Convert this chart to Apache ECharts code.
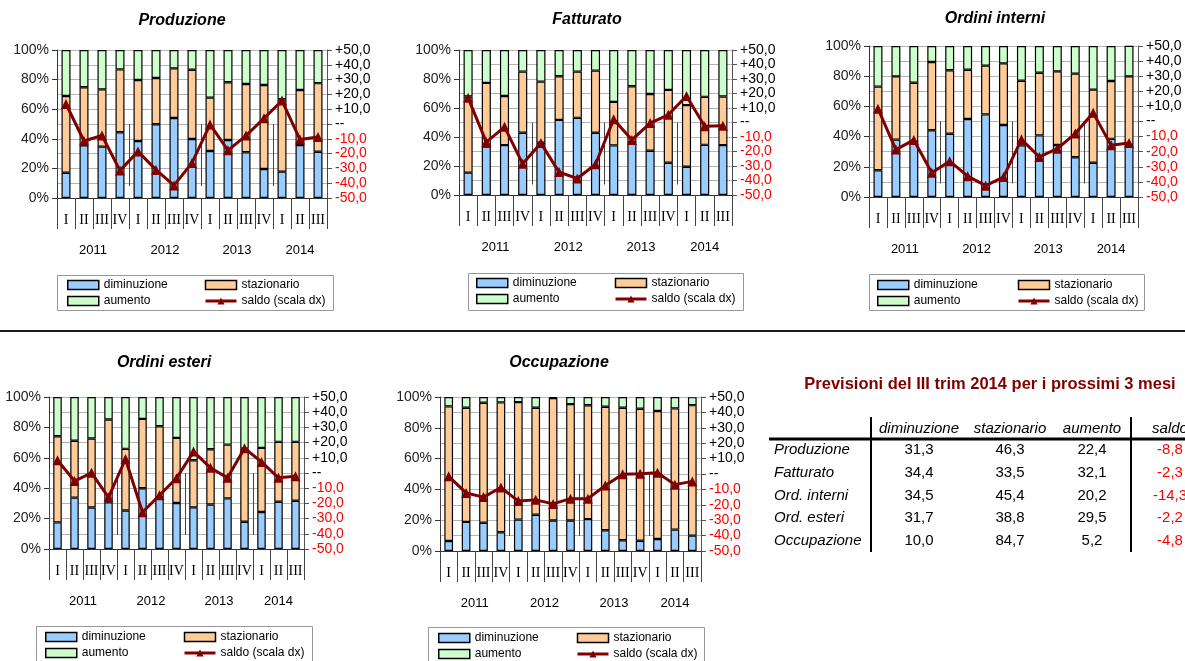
<!DOCTYPE html>
<html><head><meta charset="utf-8">
<script src="https://cdn.jsdelivr.net/npm/echarts@6/dist/echarts.min.js"></script>
<style>html,body{margin:0;padding:0;background:#fff}#c{width:1185px;height:661px}</style>
</head><body><div id="c"></div>
<script>
// ---------- data ----------
const quarters = ['I','II','III','IV','I','II','III','IV','I','II','III','IV','I','II','III'];
const years = ['2011','2012','2013','2014'];
const quartersPerYear = [4,4,4,3];
const leftTickLabels = ['0%','20%','40%','60%','80%','100%'];
const rightTickLabels = ['-50,0','-40,0','-30,0','-20,0','-10,0','--','+10,0','+20,0','+30,0','+40,0','+50,0'];
const seriesNames = ['diminuzione','stazionario','aumento','saldo (scala dx)'];
const panelTitles = ['Produzione','Fatturato','Ordini interni','Ordini esteri','Occupazione'];

const prodDim   = [17.1,35.6,34.7,44.4,38.5,49.8,54.1,39.9,31.8,39.2,30.9,19.6,17.8,35.8,31.3];
const prodStaz  = [51.8,39.2,38.7,42.5,41.2,31.3,33.5,46.8,36.0,39.0,46.1,56.8,48.9,37.2,46.3];
const prodAum   = [31.1,25.2,26.6,13.1,20.3,18.9,12.4,13.3,32.2,21.8,23.0,23.6,33.3,27.0,22.4];
const prodSaldo = [13.5,-11.5,-7.8,-31.5,-18.5,-31.0,-41.5,-26.3,-0.3,-17.8,-7.8,3.9,15.8,-10.5,-8.8];

const fattDim   = [15.4,33.5,34.4,42.9,36.0,51.8,53.2,42.9,34.2,36.5,30.5,22.2,19.5,34.6,34.4];
const fattStaz  = [52.5,43.8,33.9,42.2,42.2,30.1,31.9,42.9,30.0,38.5,39.2,50.3,42.5,33.1,33.5];
const fattAum   = [32.1,22.7,31.7,14.9,21.8,18.1,14.9,14.2,35.8,25.0,30.3,27.5,38.0,32.3,32.1];
const fattSaldo = [17.0,-13.5,-3.0,-28.5,-14.2,-34.2,-38.6,-28.8,2.2,-12.0,-0.4,5.3,18.3,-2.6,-2.3];

const intDim    = [17.7,38.0,36.5,44.2,41.9,51.7,54.7,47.7,34.2,40.8,34.4,26.3,22.7,38.5,34.5];
const intStaz   = [55.4,41.9,39.2,45.2,42.0,32.6,32.3,40.8,42.8,41.5,48.8,55.4,48.4,38.3,45.4];
const intAum    = [26.9,20.1,24.3,10.6,16.1,15.7,13.0,11.5,23.0,17.7,16.8,18.3,28.9,23.2,20.2];
const intSaldo  = [8.5,-18.6,-12.2,-34.0,-26.3,-36.2,-42.5,-36.8,-11.8,-23.5,-18.0,-8.0,5.8,-15.8,-14.3];

const estDim    = [17.5,33.8,27.3,30.8,25.3,40.0,34.0,30.3,27.4,29.3,33.3,17.9,24.3,31.1,31.7];
const estStaz   = [56.7,37.4,45.4,54.4,40.6,45.6,46.8,42.8,31.0,36.3,35.4,48.1,42.2,39.4,38.8];
const estAum    = [25.8,28.8,27.3,14.8,34.1,14.4,19.2,26.9,41.6,34.4,31.3,34.0,33.5,29.5,29.5];
const estSaldo  = [8.4,-5.3,0.1,-16.0,9.2,-25.8,-14.6,-3.4,14.1,3.4,-3.2,16.3,7.3,-3.2,-2.2];

const occDim    = [6.5,18.9,18.3,12.2,20.4,23.5,19.8,19.8,20.7,13.5,7.0,6.7,7.8,13.9,10.0];
const occStaz   = [87.4,74.1,78.0,84.3,76.3,69.5,79.5,75.6,73.9,80.2,86.0,85.7,83.1,78.7,84.7];
const occAum    = [6.1,7.0,3.7,3.5,3.3,7.0,0.7,4.6,5.4,6.3,7.0,7.6,9.1,7.4,5.2];
const occSaldo  = [-1.5,-12.3,-15.0,-8.8,-17.6,-16.8,-19.4,-16.0,-16.0,-7.5,-0.2,0.2,0.8,-6.9,-4.8];

const tableTitle = 'Previsioni del III trim 2014 per i prossimi 3 mesi';
const tableHeaders = ['diminuzione','stazionario','aumento','saldo'];
const tableRows  = ['Produzione','Fatturato','Ord. interni','Ord. esteri','Occupazione'];
const tableDim   = [31.3,34.4,34.5,31.7,10.0];
const tableStaz  = [46.3,33.5,45.4,38.8,84.7];
const tableAum   = [22.4,32.1,20.2,29.5,5.2];
const tableSaldo = [-8.8,-2.3,-14.3,-2.2,-4.8];

// ---------- layout ----------
const panelData = [
  [prodDim,prodStaz,prodAum,prodSaldo],
  [fattDim,fattStaz,fattAum,fattSaldo],
  [intDim,intStaz,intAum,intSaldo],
  [estDim,estStaz,estAum,estSaldo],
  [occDim,occStaz,occAum,occSaldo]
];
const layout = [
  {grid:{left:57,top:50,width:270,height:148}, title:[182,21], box:[57,275,276,35], leg1:[67,278], leg2:[204,278]},
  {grid:{left:459,top:50,width:273,height:145}, title:[587,20], box:[468,273,275,37], leg1:[476,276], leg2:[614,276]},
  {grid:{left:869,top:46,width:269,height:151}, title:[995,19], box:[869,274,275,36], leg1:[877,278], leg2:[1017,278]},
  {grid:{left:49,top:397,width:255,height:152}, title:[164,363], box:[36,626,276,40], leg1:[45,630], leg2:[183,630]},
  {grid:{left:440,top:397,width:261,height:154}, title:[559,363], box:[428,627,276,40], leg1:[438,631], leg2:[576,631]}
];
const colors = ['#99CCFF','#FFCC99','#CCFFCC'];
const lineColor = '#800000';
const SANS = 'Liberation Sans';

// year bounds/centers on the quarter scale
const yearBounds = [0]; quartersPerYear.forEach(n => yearBounds.push(yearBounds[yearBounds.length-1] + n));
const yearCenters = years.map((y,i) => (yearBounds[i] + yearBounds[i+1]) / 2);

const grids=[], xAxes=[], yAxes=[], series=[], legends=[], graphics=[];

layout.forEach((L, i) => {
  grids.push(Object.assign({outerBoundsMode:'none', containLabel:false}, L.grid));
  xAxes.push({
    type:'category', gridIndex:i, position:'bottom', data:quarters, boundaryGap:true,
    axisLine:{show:true, lineStyle:{color:'#333', width:1}},
    axisTick:{show:true, interval:0, length:31, lineStyle:{color:'#444'}},
    axisLabel:{interval:0, fontFamily:'Liberation Serif', fontSize:14, color:'#000', margin:15},
    splitLine:{show:false}
  });
  xAxes.push({
    type:'value', gridIndex:i, position:'bottom', min:0, max:yearBounds[yearBounds.length-1],
    axisLine:{show:false}, splitLine:{show:false},
    axisTick:{show:true, customValues:yearBounds, length:62, lineStyle:{color:'#444'}},
    axisLabel:{customValues:yearCenters, formatter:v => years[yearCenters.indexOf(v)], fontFamily:SANS, fontSize:13, color:'#000', margin:46}
  });
  yAxes.push({
    type:'value', gridIndex:i, position:'left', min:0, max:100, interval:20,
    axisLine:{show:true, lineStyle:{color:'#333'}},
    axisTick:{show:true, length:5, lineStyle:{color:'#333'}},
    splitLine:{show:false},
    axisLabel:{formatter:v => leftTickLabels[Math.round(v/20)], fontFamily:SANS, fontSize:14, color:'#222', margin:8}
  });
  yAxes.push({
    type:'value', gridIndex:i, position:'right', min:-50, max:50, interval:10,
    axisLine:{show:true, lineStyle:{color:'#555'}},
    axisTick:{show:true, length:5, lineStyle:{color:'#555'}},
    splitLine:{show:true, lineStyle:{color:'#b4b4b4', width:1}},
    axisLabel:{formatter:v => rightTickLabels[Math.round((v+50)/10)], color:v => (v < 0 ? '#FF0000' : '#000'), fontFamily:SANS, fontSize:14, margin:8}
  });
  const d = panelData[i];
  for (let k = 0; k < 3; k++) {
    series.push({
      type:'bar', name:seriesNames[k], xAxisIndex:2*i, yAxisIndex:2*i, stack:'s'+i, data:d[k],
      barWidth:'50%', itemStyle:{color:colors[k], borderColor:'#000', borderWidth:1.2},
      emphasis:{disabled:true}, z:2
    });
  }
  series.push({
    type:'line', name:seriesNames[3], xAxisIndex:2*i, yAxisIndex:2*i+1, data:d[3],
    symbol:'triangle', symbolSize:10, itemStyle:{color:lineColor}, lineStyle:{color:lineColor, width:3},
    emphasis:{disabled:true}, z:5
  });
  const legBase = {orient:'vertical', itemWidth:31, itemHeight:9, itemGap:2, padding:0,
    lineStyle:{width:3}, itemStyle:{borderColor:'#000', borderWidth:1.5},
    textStyle:{fontFamily:SANS, fontSize:12, color:'#000', lineHeight:14}};
  legends.push(Object.assign({}, legBase, {left:L.leg1[0], top:L.leg1[1],
    data:[{name:seriesNames[0], icon:'rect'}, {name:seriesNames[2], icon:'rect'}]}));
  legends.push(Object.assign({}, legBase, {left:L.leg2[0], top:L.leg2[1],
    data:[{name:seriesNames[1], icon:'rect'}, {name:seriesNames[3], itemStyle:{borderWidth:0}}]}));
  graphics.push({type:'rect', shape:{x:L.box[0]+0.5, y:L.box[1]+0.5, width:L.box[2], height:L.box[3]}, style:{fill:'#fff', stroke:'#999', lineWidth:1}, z:0});
  graphics.push({type:'text', x:L.title[0], y:L.title[1], style:{text:panelTitles[i], font:'italic bold 16px "Liberation Sans"', fill:'#000', textAlign:'center', textVerticalAlign:'middle'}});
});

// separator
graphics.push({type:'line', shape:{x1:0, y1:331, x2:1185, y2:331}, style:{stroke:'#1a1a1a', lineWidth:2}});

// table
const fmt = v => v.toFixed(1).replace('.', ',');
graphics.push({type:'text', x:990, y:384, style:{text:tableTitle, font:'bold 16.5px "Liberation Sans"', fill:'#800000', textAlign:'center', textVerticalAlign:'middle'}});
const colX = [919, 1010, 1092, 1170];
const headerY = 429;
const rowY = [450, 473, 496, 518, 541];
tableHeaders.forEach((h, j) => graphics.push({type:'text', x:colX[j], y:headerY, style:{text:h, font:'italic 15px "Liberation Sans"', fill:'#000', textAlign:'center', textVerticalAlign:'middle'}}));
tableRows.forEach((r, k) => {
  graphics.push({type:'text', x:774, y:rowY[k], style:{text:r, font:'italic 15px "Liberation Sans"', fill:'#000', textAlign:'left', textVerticalAlign:'middle'}});
  [tableDim, tableStaz, tableAum, tableSaldo].forEach((arr, j) => {
    graphics.push({type:'text', x:colX[j], y:rowY[k], style:{text:fmt(arr[k]), font:'15px "Liberation Sans"', fill: j === 3 ? '#FF0000' : '#000', textAlign:'center', textVerticalAlign:'middle'}});
  });
});
graphics.push({type:'line', shape:{x1:769, y1:439, x2:1185, y2:439}, style:{stroke:'#000', lineWidth:3}});
graphics.push({type:'line', shape:{x1:871, y1:417, x2:871, y2:552}, style:{stroke:'#000', lineWidth:2}});
graphics.push({type:'line', shape:{x1:1131, y1:417, x2:1131, y2:552}, style:{stroke:'#000', lineWidth:2}});

const chart = echarts.init(document.getElementById('c'), null, {renderer:'canvas'});
chart.setOption({
  animation:false,
  backgroundColor:'#fff',
  grid:grids, xAxis:xAxes, yAxis:yAxes, series:series, legend:legends,
  graphic:{elements:graphics}
});
</script></body></html>
